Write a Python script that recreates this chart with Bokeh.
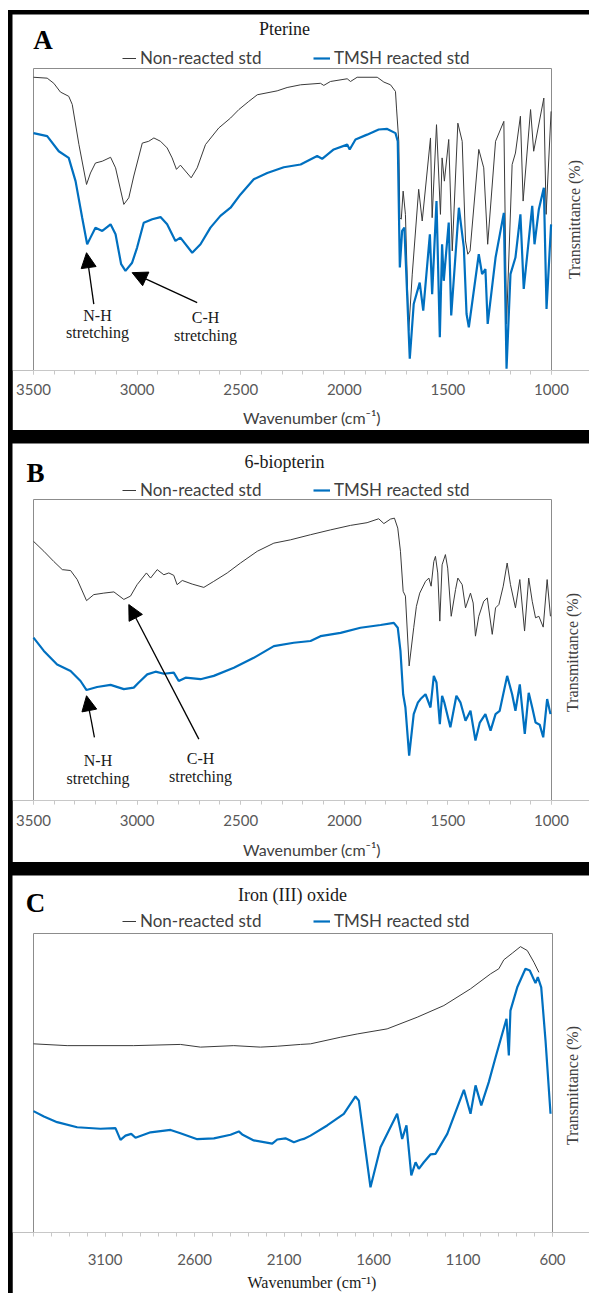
import math
from bokeh.plotting import figure
from bokeh.models import Range1d, FixedTicker, Label, Arrow, NormalHead, Legend, LegendItem
from bokeh.layouts import column
from bokeh.embed import file_html
from bokeh.resources import INLINE

SERIF = "Liberation Serif"
SANS = "Lato"
BLACK_LINE = "#3a3a3a"
BLUE_LINE = "#0070c0"

# ---------------- data (wavenumber cm-1, transmittance %) ----------------
series_labels = ["Non-reacted std", "TMSH reacted std"]
panel_titles = ["Pterine", "6-biopterin", "Iron (III) oxide"]
panel_letters = ["A", "B", "C"]
x_title = "Wavenumber (cm\u207b\u00b9)"
y_title = "Transmittance (%)"
annot_texts = [("N-H", "stretching"), ("C-H", "stretching")]

pterine_nonreacted = [
    (3500, 97.1), (3434, 96.8), (3402, 95.1), (3370, 92.2), (3330, 90.8), (3313, 88.1), (3281, 74.9),
    (3244, 61.6), (3225, 65.4), (3201, 68.7), (3168, 69.3), (3128, 70.6), (3104, 67.1), (3064, 55.0),
    (3040, 57.2), (3016, 64.4), (2975, 75.3), (2944, 75.9), (2919, 77.0), (2887, 75.9), (2855, 73.7),
    (2831, 70.4), (2810, 66.6), (2791, 68.0), (2739, 63.8), (2710, 67.1), (2670, 74.8), (2606, 80.3),
    (2549, 83.6), (2509, 86.4), (2461, 89.1), (2420, 91.3), (2324, 92.6), (2276, 93.7), (2211, 94.6),
    (2115, 95.1), (2099, 94.4), (2067, 95.7), (1986, 96.6), (1970, 95.7), (1938, 97.1), (1841, 97.1),
    (1809, 95.5), (1777, 94.6), (1753, 92.4), (1748, 86.9), (1737, 75.9), (1732, 50.6), (1725, 50.1),
    (1716, 59.4), (1705, 51.7), (1689, 13.2), (1672, 31.9), (1641, 60.0), (1624, 49.5), (1584, 77.0),
    (1576, 50.6), (1555, 81.4), (1536, 51.7), (1528, 70.4), (1517, 62.7), (1496, 76.5), (1479, 39.6),
    (1452, 81.9), (1431, 75.9), (1415, 42.9), (1404, 38.5), (1393, 39.6), (1351, 73.2), (1327, 67.1),
    (1308, 41.8), (1270, 75.9), (1230, 82.5), (1217, 15.4), (1190, 68.2), (1174, 72.0), (1150, 84.2),
    (1137, 56.1), (1101, 86.4), (1086, 72.6), (1037, 90.2), (1026, 51.7), (1002, 85.8),
]
pterine_tmsh = [
    (3500, 78.6), (3434, 77.6), (3378, 72.6), (3330, 70.4), (3297, 62.7), (3265, 50.6), (3241, 41.8),
    (3225, 44.0), (3201, 47.3), (3168, 46.2), (3128, 48.4), (3104, 45.1), (3077, 35.2), (3056, 33.0),
    (3024, 35.7), (3000, 40.7), (2968, 48.9), (2927, 50.1), (2887, 50.8), (2855, 48.4), (2815, 42.9),
    (2791, 44.0), (2734, 39.0), (2694, 41.8), (2646, 47.3), (2598, 51.2), (2549, 53.9), (2501, 58.3),
    (2437, 63.3), (2372, 65.4), (2292, 67.3), (2211, 68.2), (2131, 71.0), (2107, 70.1), (2051, 73.2),
    (1986, 74.8), (1974, 73.2), (1946, 76.5), (1890, 78.1), (1834, 79.8), (1793, 80.0), (1753, 78.6),
    (1742, 75.9), (1732, 34.1), (1721, 46.2), (1710, 47.3), (1684, 3.9), (1665, 22.0), (1636, 29.1),
    (1619, 19.8), (1587, 45.1), (1576, 25.3), (1555, 56.1), (1539, 11.0), (1528, 41.8), (1520, 29.7),
    (1496, 49.0), (1484, 18.2), (1447, 53.9), (1423, 40.7), (1410, 18.7), (1399, 14.3), (1351, 38.5),
    (1335, 31.9), (1319, 33.6), (1308, 15.4), (1270, 37.4), (1230, 52.2), (1217, 0.6), (1198, 31.9),
    (1174, 37.4), (1150, 51.7), (1134, 27.0), (1093, 54.5), (1082, 41.8), (1061, 53.4), (1037, 60.5),
    (1024, 20.4), (1002, 48.4),
]
biopterin_nonreacted = [
    (3500, 86.1), (3450, 82.8), (3402, 79.4), (3361, 76.7), (3321, 76.4), (3289, 73.4), (3244, 66.4),
    (3209, 68.4), (3161, 68.9), (3112, 69.3), (3064, 66.8), (3032, 67.9), (3000, 71.7), (2955, 75.6),
    (2935, 73.9), (2903, 76.7), (2871, 75.0), (2847, 75.6), (2823, 74.8), (2807, 71.7), (2782, 73.1),
    (2734, 71.9), (2678, 70.8), (2630, 72.8), (2565, 75.6), (2501, 78.9), (2420, 82.8), (2340, 85.5),
    (2260, 86.6), (2163, 88.3), (2067, 89.9), (1970, 91.4), (1890, 92.3), (1834, 93.6), (1809, 92.0),
    (1777, 93.5), (1758, 93.8), (1742, 90.5), (1729, 82.8), (1716, 69.5), (1705, 67.9), (1687, 44.7),
    (1665, 57.4), (1652, 64.5), (1636, 68.9), (1608, 72.8), (1592, 73.9), (1581, 71.2), (1568, 79.4),
    (1560, 81.1), (1549, 75.6), (1539, 59.6), (1528, 78.3), (1512, 81.7), (1501, 77.2), (1484, 61.2),
    (1463, 70.1), (1452, 73.9), (1431, 71.7), (1415, 64.0), (1391, 68.9), (1378, 65.6), (1367, 54.6),
    (1351, 61.2), (1327, 66.2), (1310, 67.3), (1286, 55.2), (1270, 64.0), (1254, 65.1), (1233, 71.2),
    (1214, 78.9), (1198, 71.7), (1174, 64.0), (1153, 73.4), (1130, 56.3), (1110, 73.9), (1093, 66.2),
    (1077, 60.7), (1061, 61.2), (1040, 57.6), (1021, 73.4), (1005, 61.2),
]
biopterin_tmsh = [
    (3500, 54.1), (3450, 49.7), (3386, 45.2), (3321, 43.0), (3273, 39.7), (3244, 36.7), (3193, 37.7),
    (3128, 38.4), (3064, 37.0), (3016, 37.5), (2992, 39.2), (2951, 41.9), (2911, 42.8), (2871, 42.1),
    (2823, 42.5), (2799, 39.7), (2766, 40.8), (2694, 40.3), (2630, 41.4), (2533, 44.1), (2437, 47.4),
    (2340, 51.3), (2244, 52.4), (2163, 53.0), (2115, 54.6), (2018, 55.7), (1922, 57.4), (1825, 58.3),
    (1761, 59.0), (1742, 57.4), (1729, 49.7), (1716, 35.3), (1705, 30.9), (1687, 14.9), (1665, 28.7),
    (1645, 32.5), (1632, 33.7), (1608, 35.3), (1584, 30.9), (1568, 41.4), (1555, 39.2), (1539, 25.4),
    (1528, 34.8), (1517, 32.5), (1488, 24.3), (1459, 34.8), (1439, 32.5), (1415, 26.5), (1391, 29.8),
    (1367, 19.9), (1346, 25.9), (1319, 28.7), (1294, 23.2), (1270, 28.7), (1250, 29.8), (1214, 41.4),
    (1190, 35.3), (1174, 29.8), (1153, 38.6), (1129, 22.1), (1110, 35.8), (1093, 30.9), (1077, 25.9),
    (1057, 25.2), (1040, 21.0), (1021, 33.7), (1005, 28.7),
]
ironoxide_nonreacted = [
    (3500, 63.1), (3312, 62.5), (2940, 62.5), (2679, 62.9), (2567, 62.0), (2381, 62.5), (2232, 62.0),
    (2138, 62.3), (2008, 62.9), (1952, 63.1), (1785, 65.3), (1691, 66.4), (1524, 68.1), (1356, 72.0),
    (1207, 75.9), (1058, 81.5), (946, 86.5), (900, 88.2), (872, 91.2), (825, 93.4), (779, 95.6),
    (741, 94.3), (704, 90.4), (676, 87.0),
]
ironoxide_tmsh = [
    (3500, 40.6), (3442, 38.8), (3368, 36.9), (3256, 35.2), (3126, 34.7), (3042, 34.9), (3014, 31.0),
    (2986, 32.4), (2954, 33.0), (2930, 31.7), (2846, 33.5), (2734, 34.3), (2679, 33.2), (2585, 31.2),
    (2492, 31.5), (2399, 32.7), (2353, 33.8), (2334, 32.8), (2269, 30.8), (2166, 29.7), (2138, 31.1),
    (2092, 31.5), (2045, 30.2), (2008, 31.0), (1990, 31.3), (1952, 32.4), (1859, 35.8), (1766, 39.7),
    (1701, 45.5), (1682, 44.1), (1617, 15.1), (1561, 28.5), (1468, 39.7), (1440, 31.3), (1416, 35.8),
    (1389, 19.1), (1365, 23.5), (1347, 21.3), (1319, 23.5), (1282, 26.1), (1254, 26.3), (1188, 33.0),
    (1095, 47.7), (1058, 39.7), (1030, 49.2), (998, 42.5), (956, 50.3), (918, 58.6), (857, 71.5),
    (844, 59.2), (835, 74.2), (797, 82.0), (751, 88.2), (727, 87.6), (695, 83.4), (682, 85.4),
    (663, 82.0), (639, 64.2), (611, 39.7),
]

ab_axis_limits = (1000, 3500)
c_axis_limits = (600, 3500)
ab_major_ticks = [3500, 3000, 2500, 2000, 1500, 1000]
ab_minor_ticks = list(range(1000, 3501, 100))
c_major_ticks = [3100, 2600, 2100, 1600, 1100, 600]
c_minor_ticks = list(range(600, 3501, 100))

# arrow (tail -> tip) positions in data units, per panel
arrows_a = [((3209, 22.0), (3244, 39.0)), ((2710, 22.5), (3024, 32.4))]
arrows_b = [((3206, 21.0), (3244, 34.8)), ((2702, 20.4), (3040, 65.1))]

# ---------------- layout geometry (page pixels) ----------------
FIG_LEFT = 12
FIG_W = 599   # runs a little past the window edge, like the reference's cut-off border


def make_panel(g, limits, majors, minors, black, blue, title, letter):
    lo, hi = limits
    kx = (g["plot_right"] - g["plot_left"]) / (hi - lo)
    x_start = hi + (g["plot_left"] - FIG_LEFT) / kx
    x_end = lo - (FIG_LEFT + FIG_W - g["plot_right"]) / kx
    ky = (g["plot_bottom"] - g["plot_top"]) / 100.0
    y_end = 100 + (g["plot_top"] - g["fig_top"]) / ky

    p = figure(width=FIG_W, height=g["fig_h"], x_range=Range1d(x_start, x_end),
               y_range=Range1d(0, y_end), y_axis_type=None, output_backend="svg",
               toolbar_location=None, min_border_left=0, min_border_right=0, min_border_top=0,
               min_border_bottom=g["bottom"])
    p.background_fill_color = "white"
    p.border_fill_color = "white"
    p.outline_line_color = None
    p.xgrid.visible = False

    ax = p.xaxis[0]
    ax.bounds = (lo, hi)
    ax.ticker = FixedTicker(ticks=majors, minor_ticks=minors)
    ax.axis_line_color = "#c8c8c8"
    ax.axis_line_width = 1
    ax.major_tick_line_color = "#c8c8c8"
    ax.minor_tick_line_color = "#c8c8c8"
    ax.major_tick_in = 0
    ax.major_tick_out = 4
    ax.minor_tick_in = 0
    ax.minor_tick_out = 4
    ax.major_label_text_font = SANS
    ax.major_label_text_font_size = "15px"
    ax.major_label_text_color = "#595959"
    ax.major_label_standoff = g["tick_standoff"]
    ax.axis_label = x_title
    ax.axis_label_text_font = g["xtitle_font"]
    ax.axis_label_text_font_size = "16px"
    ax.axis_label_text_font_style = "normal"
    ax.axis_label_text_color = g["xtitle_color"]
    ax.axis_label_standoff = g["xtitle_standoff"]

    # plot-area border: left, top, right edges
    p.line([hi, hi, lo, lo], [0, 100, 100, 0], line_color="#8c8c8c", line_width=1)

    kx_, ky_ = zip(*black)
    bx_, by_ = zip(*blue)
    rk = p.line(list(kx_), list(ky_), line_color=BLACK_LINE, line_width=1)
    rb = p.line(list(bx_), list(by_), line_color=BLUE_LINE, line_width=2.2)

    def sx(px):
        return px - FIG_LEFT

    def sy(py):
        return g["plot_bottom"] - py

    for rend, lab, lx, gw in ((rk, series_labels[0], 122, 14), (rb, series_labels[1], 313, 17)):
        leg = Legend(items=[LegendItem(label=lab, renderers=[rend])],
                     location=(sx(lx), sy(g["legend_y"]) - 10),
                     orientation="horizontal", label_text_font=SANS, label_text_font_size="17px",
                     label_text_color="#404040", glyph_width=gw, glyph_height=14, label_height=14,
                     label_standoff=4, padding=0, margin=0, spacing=0, border_line_color=None,
                     background_fill_alpha=0)
        p.add_layout(leg)

    p.add_layout(Label(x=sx(g["title_xy"][0]), y=sy(g["title_xy"][1]), x_units="screen", y_units="screen",
                       text=title, text_font=SERIF, text_font_size="18px", text_color="#1a1a1a",
                       text_align="center", text_baseline="middle"))
    p.add_layout(Label(x=sx(g["letter_xy"][0]), y=sy(g["letter_xy"][1]), x_units="screen", y_units="screen",
                       text=letter, text_font=SERIF, text_font_size="27px", text_font_style="bold",
                       text_color="black", text_align="center", text_baseline="middle"))
    p.add_layout(Label(x=sx(g["ytitle_xy"][0]), y=sy(g["ytitle_xy"][1]), x_units="screen", y_units="screen",
                       text=y_title, angle=math.pi / 2, text_font=SERIF, text_font_size="16px",
                       text_color="#404040", text_align="center", text_baseline="middle"))

    for tail_tip in g.get("arrows", []):
        (x0, y0), (x1, y1) = tail_tip
        p.add_layout(Arrow(end=NormalHead(size=15, fill_color="black", line_color="black", line_width=1),
                           x_start=x0, y_start=y0, x_end=x1, y_end=y1, line_color="black", line_width=1.3))
    for (l1, l2), (tx, ty1, ty2) in zip(annot_texts, g.get("annot_xy", [])):
        for t, ty in ((l1, ty1), (l2, ty2)):
            p.add_layout(Label(x=sx(tx), y=sy(ty), x_units="screen", y_units="screen", text=t,
                               text_font=SERIF, text_font_size="16px", text_color="#1a1a1a",
                               text_align="center", text_baseline="middle"))
    return p


geom_a = dict(fig_top=14, fig_h=416, plot_top=68, plot_bottom=370, plot_left=33, plot_right=551, bottom=60,
              tick_standoff=9, legend_y=58, title_xy=(284, 28), letter_xy=(42.5, 39), ytitle_xy=(573.5, 219),
              xtitle_standoff=10, xtitle_font=SANS, xtitle_color="#404040",
              arrows=arrows_a, annot_xy=[(97, 315, 332), (205, 317, 335)])
geom_b = dict(fig_top=443, fig_h=419, plot_top=499, plot_bottom=800, plot_left=33, plot_right=551, bottom=62,
              tick_standoff=10, legend_y=490, title_xy=(284, 461), letter_xy=(35, 472), ytitle_xy=(571.7, 652),
              xtitle_standoff=11, xtitle_font=SANS, xtitle_color="#404040",
              arrows=arrows_b, annot_xy=[(97.5, 760, 778), (200, 758, 776)])
geom_c = dict(fig_top=875, fig_h=430, plot_top=933, plot_bottom=1232, plot_left=33, plot_right=552, bottom=73,
              tick_standoff=17, legend_y=921, title_xy=(292, 894), letter_xy=(35, 902), ytitle_xy=(571.7, 1085),
              xtitle_standoff=6, xtitle_font=SERIF, xtitle_color="#1a1a1a")

pA = make_panel(geom_a, ab_axis_limits, ab_major_ticks, ab_minor_ticks, pterine_nonreacted, pterine_tmsh,
                panel_titles[0], panel_letters[0])
pB = make_panel(geom_b, ab_axis_limits, ab_major_ticks, ab_minor_ticks, biopterin_nonreacted, biopterin_tmsh,
                panel_titles[1], panel_letters[1])
pC = make_panel(geom_c, c_axis_limits, c_major_ticks, c_minor_ticks, ironoxide_nonreacted, ironoxide_tmsh,
                panel_titles[2], panel_letters[2])

pA.margin = (4, 0, 0, 4)
pB.margin = (13, 0, 0, 4)
pC.margin = (13, 0, 0, 4)

layout = column(pA, pB, pC, spacing=0, margin=(10, 0, 0, 8), styles={"background-color": "black"})

open("out.html", "w").write(file_html(layout, INLINE))
